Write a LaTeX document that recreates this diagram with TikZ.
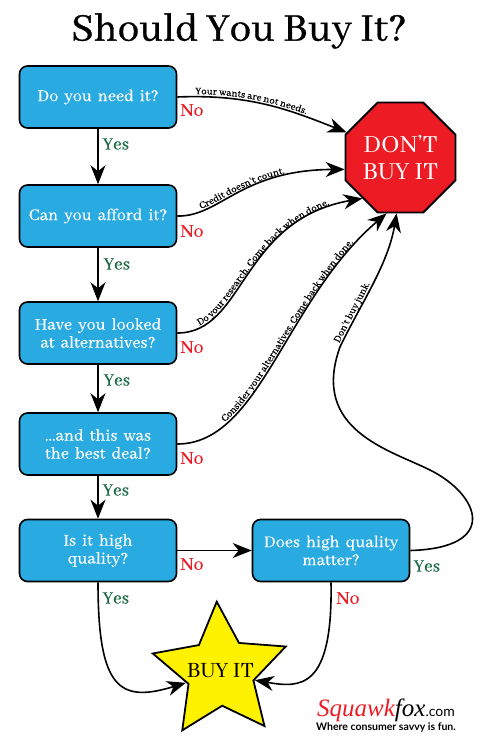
\documentclass[tikz,border=0pt]{standalone}
\usepackage{fontspec}
\setmainfont{Abhaya Libre}
\usetikzlibrary{arrows.meta,shapes.geometric,decorations.text}
\definecolor{boxblue}{HTML}{29ABE2}
\definecolor{stopred}{HTML}{ED1C24}
\definecolor{staryellow}{HTML}{FFF200}
\definecolor{yesgreen}{HTML}{1B6B45}
\newcommand{\lbl}[1]{\fontsize{#1}{#1}\selectfont}
\newcommand{\thick}[1]{\addfontfeature{FakeBold=#1}}
\tikzset{
  qbox/.style={draw,line width=1.6pt,fill=boxblue,rounded corners=8pt,minimum width=157pt,
    minimum height=62pt,text width=150pt,align=center,text=white,font=\lbl{18}\thick{0.3}},
  yeslbl/.style={text=yesgreen,font=\lbl{19}\thick{0.3}},
  nolbl/.style={text=stopred,font=\lbl{20}\thick{0.3}},
  flow/.style={line width=1.6pt,-{Stealth[length=19pt,width=15pt,inset=6pt]}},
  say/.style={postaction={decorate,decoration={text along path,raise=2.5pt,
    text align={left indent=#1}}}},
}
\begin{document}
\begin{tikzpicture}[x=1pt,y=-1pt]
  \useasboundingbox (0,0) rectangle (480,743);
  \node (title) at (239,31) {\lbl{43}\thick{0.8}Should You Buy It?};
  % questions
  \node[qbox] (need) at (98,97) {Do you need it?};
  \node[qbox] (afford) at (98,216) {Can you afford it?};
  \node[qbox] (alt) at (98,333) {Have you looked\\at alternatives?};
  \node[qbox] (deal) at (98,444) {...and this was\\the best deal?};
  \node[qbox] (quality) at (98,550.5) {Is it high\\quality?};
  \node[qbox] (matter) at (331,550.5) {Does high quality\\matter?};
  % outcomes
  \node[draw,line width=1.8pt,fill=stopred,regular polygon,regular polygon sides=8,minimum size=119pt,
    inner sep=0pt,align=center,text=white,font=\lbl{27}] (stop) at (400.5,157.5) {DON'T\\BUY IT};
  \node[draw,line width=1.8pt,fill=staryellow,star,star points=5,star point ratio=2.05,
    minimum size=140pt,inner sep=0pt,shape border rotate=3,font=\lbl{24}] (buy) at (220.4,671.6)
    {\raisebox{2pt}{\makebox[0pt]{BUY IT}}};
  % straight arrows
  \draw[flow] (need) -- (afford);
  \draw[flow] (afford) -- (alt);
  \draw[flow] (alt) -- (deal);
  \draw[flow] (deal) -- (quality);
  \draw[flow] (quality) -- (matter);
  % curved arrows
  \draw[flow,say=18pt,decoration={text={|\lbl{10.8}\thick{0.5}|Your wants are not needs.}}]
    (need.east) .. controls (250,94) and (290,110) .. (stop.155);
  \draw[flow,say=25pt,decoration={text={|\lbl{10.8}\thick{0.5}|Credit doesn't count.}}]
    (afford.east) .. controls (220,217) and (240,170) .. (stop.192);
  \draw[flow,say=24pt,decoration={text={|\lbl{10.8}\thick{0.5}|Do your research. Come back when done.}}]
    (alt.east) .. controls (245,333) and (240,220) .. (stop.227);
  \draw[flow,say=54pt,decoration={text={|\lbl{10.8}\thick{0.5}|Consider your alternatives. Come back when done.}}]
    (deal.east) .. controls (260,444) and (285,300) .. (stop.256);
  \draw[flow,say=322pt,decoration={text={|\lbl{10.8}\thick{0.5}|Don't buy junk.}}]
    (matter.east) .. controls (500,548) and (480,495) .. (430,470)
    .. controls (390,450) and (310,430) .. (340,347)
    .. controls (360,305) and (388,265) .. (stop.266);
  \draw[flow] (quality.south) .. controls (98,690) and (120,703) .. (buy.198);
  \draw[flow] (matter.south) .. controls (333,690) and (300,688) .. (buy.346);
  % answers
  \node[nolbl] (no1) at (192,110) {No};
  \node[nolbl] (no2) at (192,231) {No};
  \node[nolbl] (no3) at (192,347) {No};
  \node[nolbl] (no4) at (192,458) {No};
  \node[nolbl] (no5) at (192,564) {No};
  \node[nolbl] (no6) at (348,598) {No};
  \node[yeslbl] (yes1) at (116,144) {Yes};
  \node[yeslbl] (yes2) at (117,264) {Yes};
  \node[yeslbl] (yes3) at (117,380) {Yes};
  \node[yeslbl] (yes4) at (116,490) {Yes};
  \node[yeslbl] (yes5) at (116,598) {Yes};
  \node[yeslbl] (yes6) at (427,566) {Yes};
  % logo
  \node[anchor=base west,inner sep=0pt] (logo) at (317,716) {\fontspec{Liberation Serif}\itshape\lbl{25}\textcolor{stopred}{Squawk}\color{black}fox\upshape\fontspec{Lato}\lbl{14}.com};
  \node[anchor=base west,inner sep=0pt] (motto) at (316,730) {\fontspec{Lato}\lbl{10.5}\bfseries Where consumer savvy is fun.};
\end{tikzpicture}
\end{document}
